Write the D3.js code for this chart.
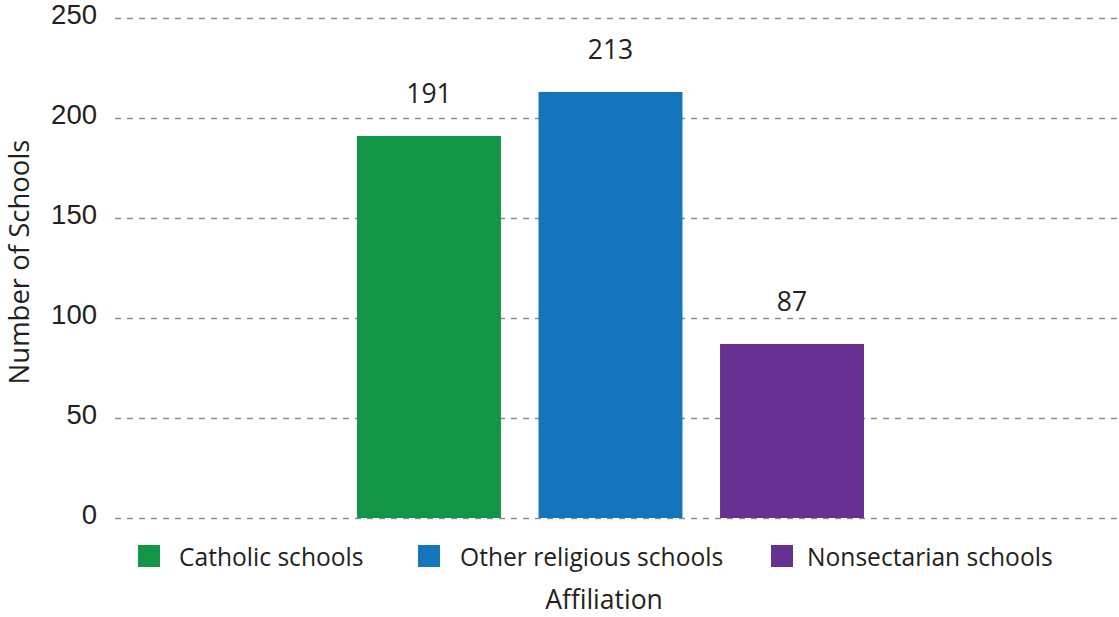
<!DOCTYPE html>
<html>
<head>
<meta charset="utf-8">
<script src="https://cdn.jsdelivr.net/npm/d3@7"></script>
<style>
  html, body { margin: 0; padding: 0; background: #ffffff; }
  svg { display: block; font-family: "Open Sans", "Noto Sans", sans-serif; }
</style>
</head>
<body>
<svg id="chart" width="1119" height="617"></svg>
<script>
// School counts by affiliation
const categories = ["Catholic schools", "Other religious schools", "Nonsectarian schools"];
const schoolCounts = [191, 213, 87];
const barColors = ["#139547", "#1475bb", "#663190"];
const yTicks = [0, 50, 100, 150, 200, 250];
const xTitle = "Affiliation";
const yTitle = "Number of Schools";

const svg = d3.select("#chart");
const textColor = "#231f20";

const plot = { left: 115, right: 1119, top: 18, bottom: 518 };

const y = d3.scaleLinear().domain([0, 250]).range([plot.bottom, plot.top]);
const x = d3.scaleBand().domain(categories).range([357, 864]).paddingInner(0.207).paddingOuter(0);
const color = d3.scaleOrdinal().domain(categories).range(barColors);

// Horizontal dashed gridlines with value labels
const yAxis = d3.axisLeft(y)
  .tickValues(yTicks)
  .tickSize(-(plot.right - plot.left))
  .tickPadding(18)
  .tickFormat(d3.format("d"));

const gAxis = svg.append("g")
  .attr("transform", `translate(${plot.left},0)`)
  .call(yAxis);
gAxis.select(".domain").remove();
gAxis.selectAll(".tick line")
  .attr("stroke", "#8c8c8c")
  .attr("stroke-width", 1.5)
  .attr("stroke-dasharray", "6,6");
gAxis.selectAll(".tick text")
  .attr("fill", textColor)
  .attr("font-size", 27.5)
  .attr("dy", "0.2em");

// Bars
svg.append("g").selectAll("rect")
  .data(categories)
  .join("rect")
  .attr("x", d => x(d))
  .attr("width", x.bandwidth())
  .attr("y", (d, i) => y(schoolCounts[i]))
  .attr("height", (d, i) => y(0) - y(schoolCounts[i]))
  .attr("fill", d => color(d));

// Value labels above bars
svg.append("g").selectAll("text")
  .data(categories)
  .join("text")
  .attr("x", d => x(d) + x.bandwidth() / 2)
  .attr("y", (d, i) => y(schoolCounts[i]) - 33)
  .attr("text-anchor", "middle")
  .attr("font-size", 26.5)
  .attr("fill", textColor)
  .text((d, i) => schoolCounts[i]);

// Legend: swatch and label positions per entry
const legendSwatchX = [138, 418, 771];
const legendTextX = [179, 460, 807];
const legend = svg.append("g");
legend.selectAll("rect")
  .data(categories)
  .join("rect")
  .attr("x", (d, i) => legendSwatchX[i])
  .attr("y", 545)
  .attr("width", 22)
  .attr("height", 22)
  .attr("fill", d => color(d));
legend.selectAll("text")
  .data(categories)
  .join("text")
  .attr("x", (d, i) => legendTextX[i])
  .attr("y", 566)
  .attr("font-size", 24.6)
  .attr("fill", textColor)
  .text(d => d);

// Axis titles
svg.append("text")
  .attr("x", 604)
  .attr("y", 609)
  .attr("text-anchor", "middle")
  .attr("font-size", 26.5)
  .attr("fill", textColor)
  .text(xTitle);

svg.append("text")
  .attr("transform", "translate(29,262) rotate(-90)")
  .attr("text-anchor", "middle")
  .attr("font-size", 27.5)
  .attr("fill", textColor)
  .text(yTitle);
</script>
</body>
</html>
